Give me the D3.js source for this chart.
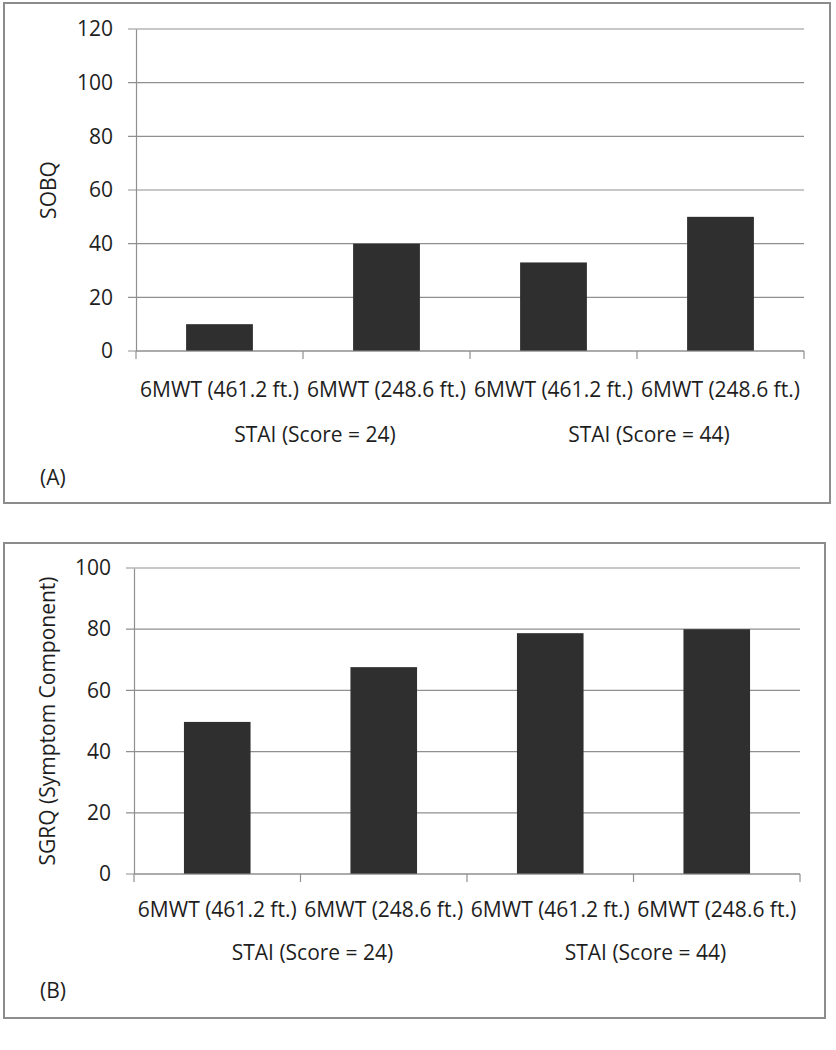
<!DOCTYPE html>
<html>
<head>
<meta charset="utf-8">
<script src="https://cdn.jsdelivr.net/npm/d3@7"></script>
<style>
  body { margin: 0; background: #fff; }
  svg text { font-family: "Open Sans", sans-serif; fill: #1e1e1e; }
</style>
</head>
<body>
<svg id="chart" width="836" height="1050"></svg>
<script>
// ---- data ----
const categories = ["6MWT (461.2 ft.)", "6MWT (248.6 ft.)", "6MWT (461.2 ft.)", "6MWT (248.6 ft.)"];
const groups = ["STAI (Score = 24)", "STAI (Score = 44)"];
const sobqValues = [10, 40, 33, 50];
const sgrqValues = [49.7, 67.6, 78.7, 80];
const sobqTicks = [0, 20, 40, 60, 80, 100, 120];
const sgrqTicks = [0, 20, 40, 60, 80, 100];

const FS = "21px";
const svg = d3.select("#chart");

function panel(cfg) {
  // border
  svg.append("rect")
    .attr("x", cfg.box[0]).attr("y", cfg.box[1])
    .attr("width", cfg.box[2]).attr("height", cfg.box[3])
    .attr("fill", "#fff").attr("stroke", "#8c8c8c").attr("stroke-width", 2);

  const g = svg.append("g").attr("transform", `translate(${cfg.left},${cfg.top})`);
  const w = cfg.width, h = cfg.height;

  const x = d3.scaleBand().domain(d3.range(categories.length)).range([0, w]).padding(0);
  const y = d3.scaleLinear().domain([0, cfg.max]).range([h, 0]);

  // gridlines
  g.selectAll("line.grid").data(cfg.ticks).join("line")
    .attr("class", "grid")
    .attr("x1", -8).attr("x2", w)
    .attr("y1", d => y(d)).attr("y2", d => y(d))
    .attr("stroke", "#8f8f8f").attr("stroke-width", 1.2);

  // y axis
  const yAxis = d3.axisLeft(y).tickValues(cfg.ticks).tickSize(0).tickPadding(23);
  const ya = g.append("g").call(yAxis);
  ya.select(".domain").attr("stroke", "#8f8f8f").attr("stroke-width", 1.2);
  ya.selectAll("text").style("font-size", FS).style("font-family", "'Open Sans', sans-serif").attr("fill", "#1e1e1e");

  // bars
  g.selectAll("rect.bar").data(cfg.values).join("rect")
    .attr("class", "bar")
    .attr("x", (d, i) => x(i) + x.bandwidth() * 0.3)
    .attr("width", x.bandwidth() * 0.4)
    .attr("y", d => y(d))
    .attr("height", d => h - y(d))
    .attr("fill", "#2f2f2f");

  // x axis line and ticks
  g.append("line").attr("x1", 0).attr("x2", w).attr("y1", h).attr("y2", h)
    .attr("stroke", "#8f8f8f").attr("stroke-width", 1.2);
  const bounds = d3.range(categories.length + 1).map(i => i < categories.length ? x(i) : w);
  g.selectAll("line.xt").data(bounds).join("line")
    .attr("class", "xt")
    .attr("x1", d => d).attr("x2", d => d)
    .attr("y1", h).attr("y2", h + 8)
    .attr("stroke", "#8f8f8f").attr("stroke-width", 1.2);

  // category labels
  g.selectAll("text.cat").data(categories).join("text")
    .attr("class", "cat")
    .attr("x", (d, i) => x(i) + x.bandwidth() / 2)
    .attr("y", h + cfg.catDy)
    .attr("text-anchor", "middle")
    .style("font-size", FS)
    .text(d => d);

  // group labels
  g.selectAll("text.grp").data(groups).join("text")
    .attr("class", "grp")
    .attr("x", (d, i) => x(i * 2) + x.bandwidth() + 12)
    .attr("y", h + cfg.grpDy)
    .attr("text-anchor", "middle")
    .style("font-size", FS)
    .text(d => d);

  // y axis title
  g.append("text")
    .attr("transform", `translate(${cfg.titleX},${h / 2}) rotate(-90)`)
    .attr("text-anchor", "middle")
    .attr("dominant-baseline", "central")
    .style("font-size", FS)
    .text(cfg.title);

  // panel tag
  svg.append("text")
    .attr("x", 40).attr("y", cfg.tagY)
    .style("font-size", FS)
    .text(cfg.tag);
}

panel({
  box: [4, 3, 826, 500],
  left: 136, top: 29, width: 668, height: 322,
  max: 120, ticks: sobqTicks, values: sobqValues,
  catDy: 46, grpDy: 91, titleX: -88, title: "SOBQ",
  tag: "(A)", tagY: 485
});

panel({
  box: [4, 543, 821, 475],
  left: 134, top: 568, width: 666, height: 306,
  max: 100, ticks: sgrqTicks, values: sgrqValues,
  catDy: 43, grpDy: 86, titleX: -87, title: "SGRQ (Symptom Component)",
  tag: "(B)", tagY: 998
});
</script>
</body>
</html>
